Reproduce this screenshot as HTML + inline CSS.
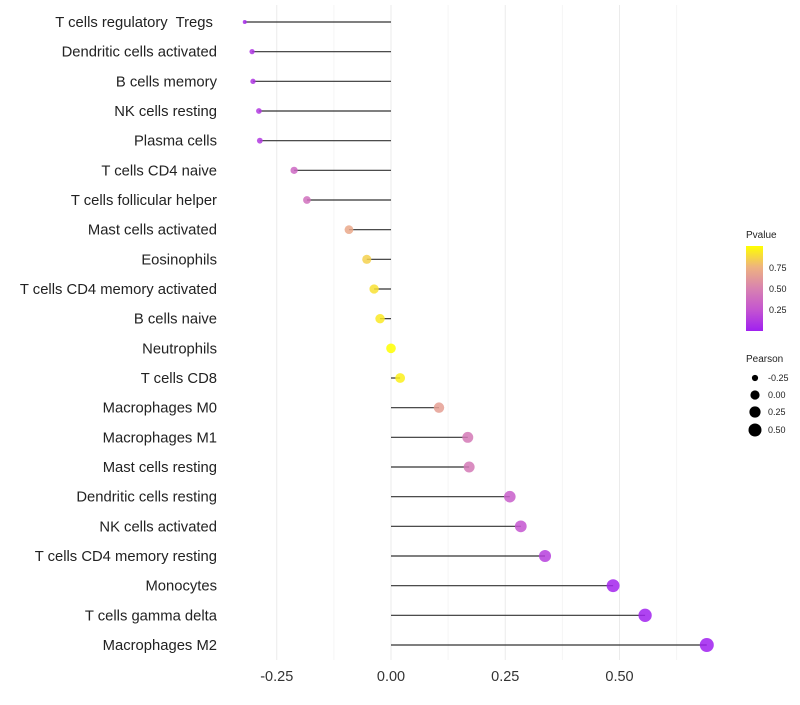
<!DOCTYPE html>
<html><head><meta charset="utf-8"><style>
body{margin:0;background:#fff;font-family:"Liberation Sans",sans-serif}
</style></head><body>
<svg id="c" width="800" height="700" xmlns="http://www.w3.org/2000/svg">
<defs><linearGradient id="pg" x1="0" y1="1" x2="0" y2="0">
<stop offset="0" stop-color="#a020f0"/><stop offset="0.25" stop-color="#c455d0"/><stop offset="0.5" stop-color="#d882b0"/><stop offset="0.75" stop-color="#eeb280"/><stop offset="1" stop-color="#ffff00"/>
</linearGradient></defs>
<g id="grid"></g><g id="marks"></g><g id="labels"></g>
<g font-size="9" fill="#222">
<text x="746" y="238" font-size="10">Pvalue</text>
<rect x="746" y="246" width="17" height="85" fill="url(#pg)"/>
<text x="769" y="271">0.75</text><text x="769" y="292">0.50</text><text x="769" y="313">0.25</text>
</g>
<g font-size="9" fill="#222">
<text x="746" y="362" font-size="10">Pearson</text>
<circle cx="755" cy="378" r="3.1" fill="#000"/><text x="768" y="381">-0.25</text>
<circle cx="755" cy="395" r="4.6" fill="#000"/><text x="768" y="398">0.00</text>
<circle cx="755" cy="412" r="5.6" fill="#000"/><text x="768" y="415">0.25</text>
<circle cx="755" cy="430" r="6.5" fill="#000"/><text x="768" y="433">0.50</text>
</g>
</svg>
<script>
const categories=["T cells regulatory  Tregs ","Dendritic cells activated","B cells memory","NK cells resting","Plasma cells","T cells CD4 naive","T cells follicular helper","Mast cells activated","Eosinophils","T cells CD4 memory activated","B cells naive","Neutrophils","T cells CD8","Macrophages M0","Macrophages M1","Mast cells resting","Dendritic cells resting","NK cells activated","T cells CD4 memory resting","Monocytes","T cells gamma delta","Macrophages M2"];
const pearson=[-0.32,-0.304,-0.302,-0.289,-0.287,-0.212,-0.184,-0.092,-0.053,-0.037,-0.024,0.0,0.02,0.105,0.168,0.171,0.26,0.284,0.337,0.486,0.556,0.691];
const pvalues=[0.05,0.1,0.1,0.12,0.12,0.35,0.4,0.7,0.85,0.9,0.93,1.0,0.95,0.65,0.45,0.45,0.3,0.25,0.15,0.02,0.01,0.001];
const xTicks=[-0.25,0,0.25,0.5];
const xTickLabels=["-0.25","0.00","0.25","0.50"];
const NS="http://www.w3.org/2000/svg";
const x=v=>391+v*457;
const y=i=>22+i*(623/21);
const stops=[[0,[160,32,240]],[0.25,[196,85,208]],[0.5,[216,130,176]],[0.75,[238,178,128]],[1,[255,255,0]]];
function col(p){for(let k=1;k<stops.length;k++){if(p<=stops[k][0]){const a=stops[k-1],b=stops[k];const t=(p-a[0])/(b[0]-a[0]);return 'rgb('+a[1].map((c,j)=>Math.round(c+(b[1][j]-c)*t)).join(',')+')';}}return 'rgb(255,255,0)';}
const mn=Math.min(...pearson),mx=Math.max(...pearson);
const rad=v=>2+5*Math.sqrt(Math.max(0,(v-mn)/(mx-mn)));
function mk(t,a,p){const e=document.createElementNS(NS,t);for(const k in a)e.setAttribute(k,a[k]);p.appendChild(e);return e;}
const grid=document.getElementById('grid'),marks=document.getElementById('marks'),labels=document.getElementById('labels');
for(let v=-0.25;v<=0.63;v+=0.125){const g=mk('line',{x1:x(v),x2:x(v),y1:5,y2:660,stroke:Math.abs((v*4)%1)<1e-6?'#ebebeb':'#f5f5f5','stroke-width':1},grid);

}
xTicks.forEach((v,i)=>{const t=mk('text',{x:x(v),y:681,'text-anchor':'middle','font-size':14.5,fill:'#333'},labels);t.textContent=xTickLabels[i];

});
categories.forEach((c,i)=>{
const t=mk('text',{x:217,y:y(i)+5,'text-anchor':'end','font-size':14.8,fill:'#222','xml:space':'preserve'},labels);t.textContent=c;t.style.whiteSpace='pre';


const l=mk('line',{x1:x(0),x2:x(pearson[i]),y1:y(i),y2:y(i),stroke:'#333','stroke-width':1.2},marks);


const d=mk('circle',{cx:x(pearson[i]),cy:y(i),r:rad(pearson[i]),fill:col(pvalues[i]),'fill-opacity':0.85},marks);


});
</script>
</body></html>
